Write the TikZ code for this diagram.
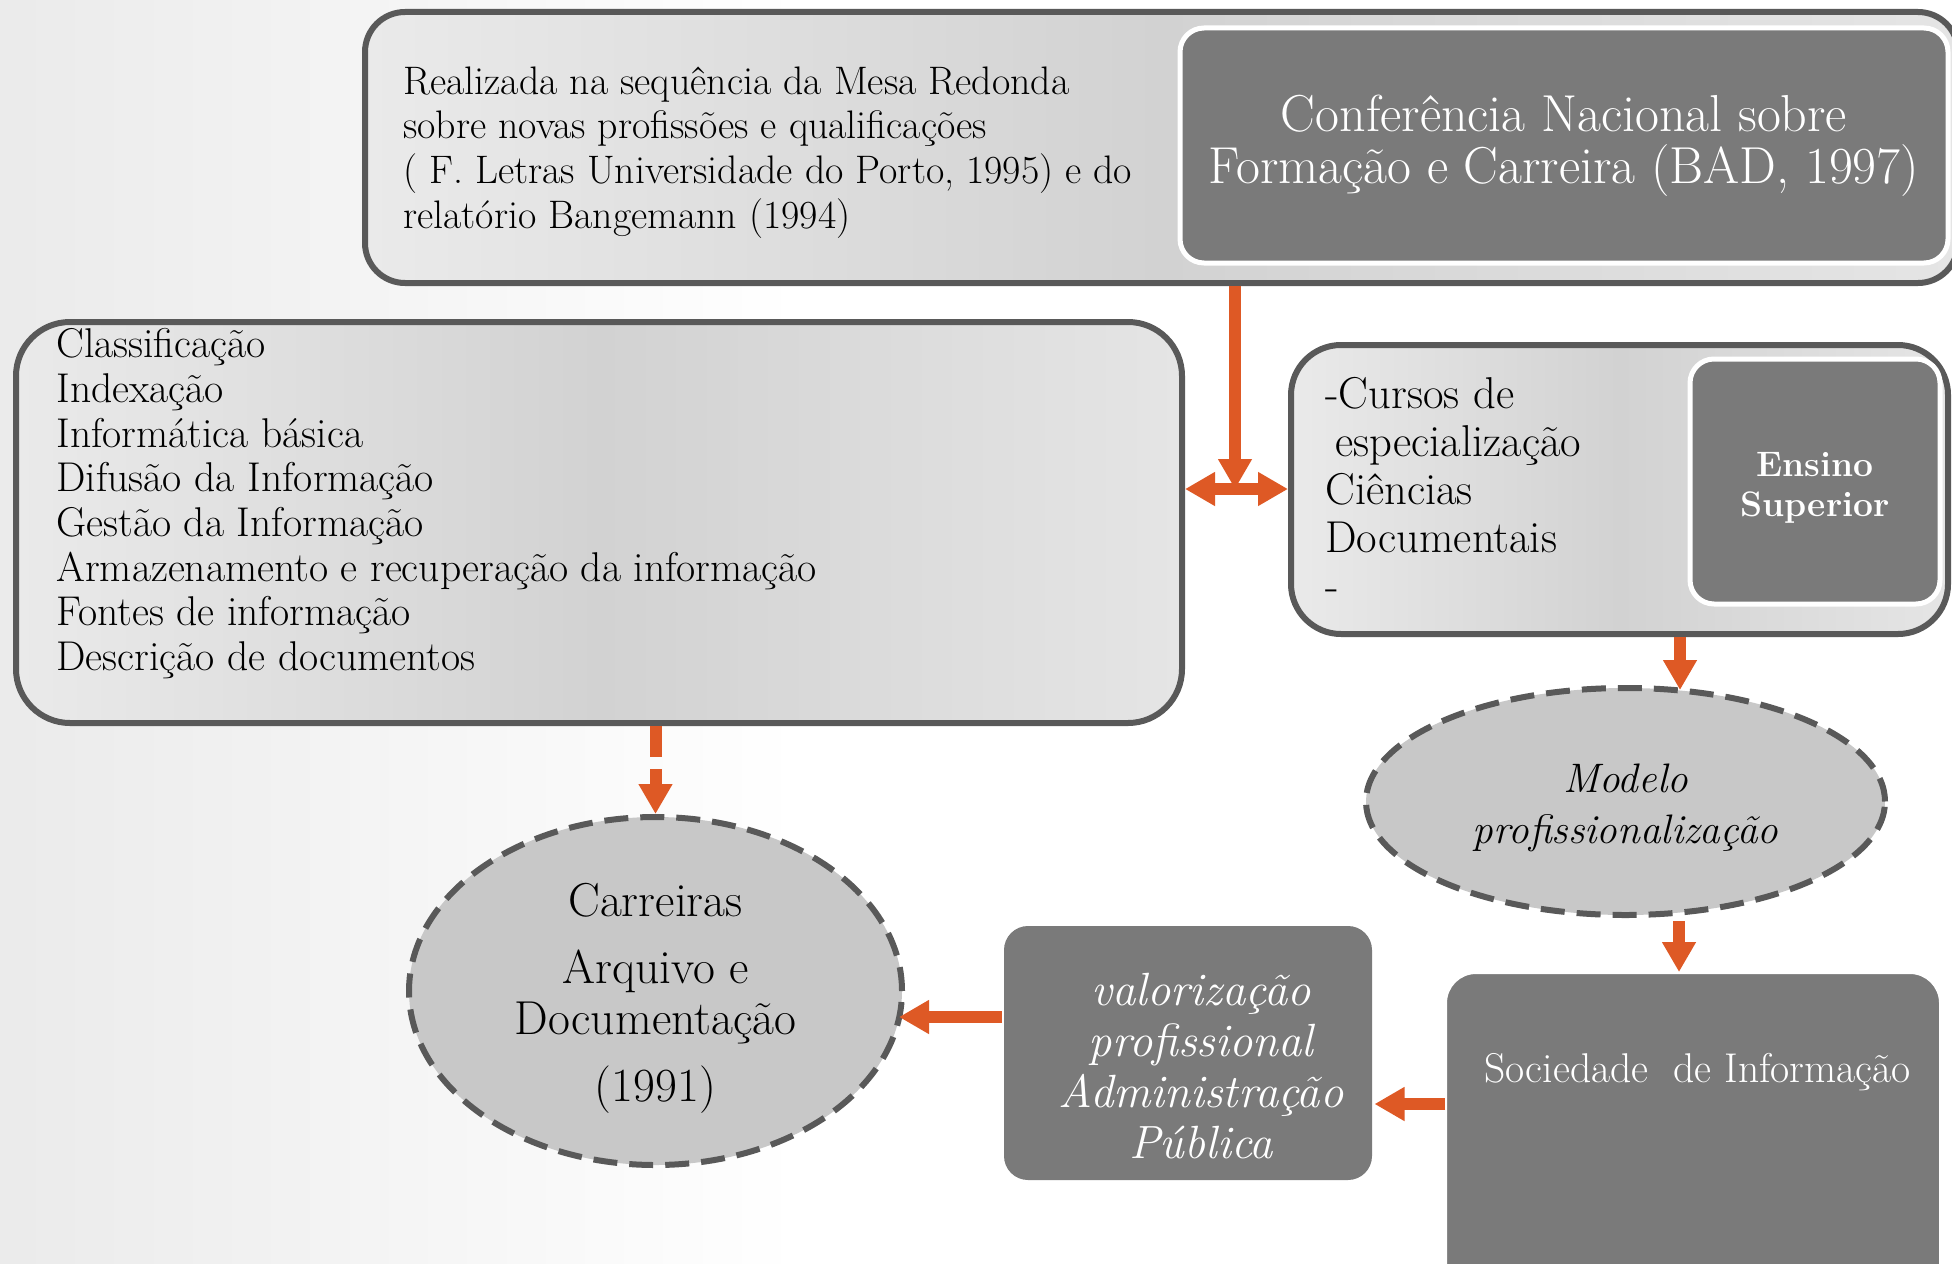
\documentclass[tikz,border=0pt]{standalone}
\usetikzlibrary{arrows.meta,shapes.geometric}
\definecolor{edge}{RGB}{89,89,89}
\definecolor{boxdark}{RGB}{122,122,122}
\definecolor{ellfill}{RGB}{200,200,200}
\definecolor{orng}{RGB}{222,89,37}
\definecolor{lgA}{RGB}{234,234,234}
\definecolor{lgB}{RGB}{210,210,210}
\definecolor{lgC}{RGB}{229,229,229}
\begin{document}
\begin{tikzpicture}[x=0.5pt,y=-0.5pt,
  lightbox/.style={draw=edge,line width=3pt,shading=axis,left color=lgA,right color=lgC,middle color=lgB,inner sep=0},
  darkbox/.style={fill=boxdark,draw=white,line width=2.5pt,inner sep=0,rounded corners=12pt},
  ell/.style={ellipse,draw=edge,line width=3pt,dash pattern=on 12pt off 6pt,fill=ellfill,inner sep=0},
  arr/.style={draw=orng,line width=6pt,-{Triangle[width=16pt,length=15pt]}},
  dblarr/.style={draw=orng,line width=6pt,{Triangle[width=16pt,length=15pt]}-{Triangle[width=16pt,length=15pt]}},
  txt/.style={inner sep=0,align=left}]
\useasboundingbox (0,0) rectangle (1952,1263);
\clip (0,0) rectangle (1952,1263);
\fill[white] (0,0) rectangle (1952,1263);
\shade[left color=black!8,right color=white] (0,0) rectangle (800,1263);

% top box
\node[lightbox,rounded corners=20pt,minimum width=796.5pt,minimum height=135.5pt] (top) at (1161.5,147.5) {};
\node[darkbox,minimum width=384pt,minimum height=117.5pt,text=white,align=center,
      font=\fontsize{26}{26}\selectfont] (conf) at (1564,145.5)
      {Conferência Nacional sobre\\Formação e Carreira (BAD, 1997)};
\node[txt,anchor=north west,font=\fontsize{19.9}{22.35}\selectfont] (toptxt) at (403,66)
      {Realizada na sequência da Mesa Redonda\\sobre novas profissões e qualificações\\( F. Letras Universidade do Porto, 1995) e do\\relatório Bangemann (1994)};

% left box
\node[lightbox,rounded corners=27pt,minimum width=583pt,minimum height=200.5pt] (left) at (599,522.5) {};
\node[txt,anchor=north west,font=\fontsize{20.8}{22.35}\selectfont] (lefttxt) at (56,328)
      {Classificação\\Indexação\\Informática básica\\Difusão da Informação\\Gestão da Informação\\Armazenamento e recuperação da informação\\Fontes de informação\\Descrição de documentos};

% right box
\node[lightbox,rounded corners=25pt,minimum width=328.5pt,minimum height=144.5pt] (right) at (1619.5,489.5) {};
\node[txt,anchor=north west,font=\fontsize{22.3}{24}\selectfont] (righttxt) at (1325,377)
      {-Cursos de\\\hspace*{5pt}especialização\\Ciências\\Documentais\\-};
\node[darkbox,minimum width=125pt,minimum height=122.5pt] (ens) at (1815,481.5) {};
\node[inner sep=0,align=center,text=white,font=\fontsize{17.7}{20}\selectfont\bfseries] (enstxt) at (1815,488)
      {Ensino\\Superior};

% ellipses
\node[ell,minimum width=259.5pt,minimum height=113.5pt] (modelo) at (1625.5,801.5) {};
\node[inner sep=0,align=center,font=\fontsize{20.6}{25.5}\selectfont\itshape] (modtxt) at (1625.5,808)
      {Modelo\\profissionalização};
\node[ell,minimum width=246.5pt,minimum height=174pt] (carr) at (655.5,991) {};
\node[inner sep=0,align=center,font=\fontsize{23.8}{25.5}\selectfont] (carrtxt) at (655.5,998)
      {Carreiras\\[8pt]Arquivo e\\Documentação\\[8pt](1991)};

% bottom dark boxes
\node[darkbox,draw=white,line width=1pt,rounded corners=15pt,minimum width=247pt,minimum height=163.5pt] (soc) at (1693,1136.5) {};
\node[inner sep=0,anchor=west,text=white,font=\fontsize{20.8}{22}\selectfont] (soctxt) at (1484,1072)
      {Sociedade\ \ de Informação};
\node[darkbox,draw=none,minimum width=184pt,minimum height=127pt] (valor) at (1188,1053) {};
\node[inner sep=0,align=center,text=white,font=\fontsize{23.3}{25.5}\selectfont\itshape] (valortxt) at (1201,1066)
      {valorização\\profissional\\Administração\\Pública};

% connectors
\coordinate (j) at (1235,489);
\draw[arr] (j |- top.south) -- (j);
\draw[dblarr] (left.east |- j) -- (right.west |- j);
\coordinate (m1) at (1680,690);
\draw[arr] (right.south -| m1) -- (m1);
\coordinate (m2) at (1679,921);
\draw[arr] (m2) -- (m2 |- soc.north);
\coordinate (h1) at (1400,1104);
\draw[arr] (soc.west |- h1) -- (valor.east |- h1);
\coordinate (h2) at (899,1017);
\draw[arr] (valor.west |- h2) -- (h2);
\draw[arr,dash pattern=on 15.5pt off 6pt] (left.south -| carr.north) -- (carr.north);
\end{tikzpicture}
\end{document}
